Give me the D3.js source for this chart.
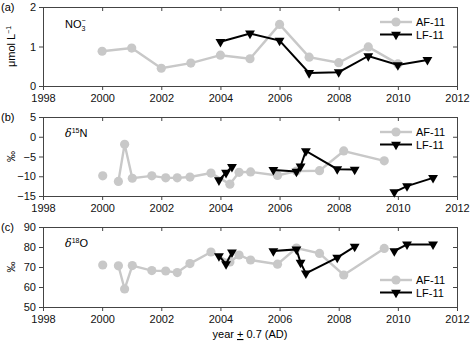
<!DOCTYPE html>
<html><head><meta charset="utf-8">
<script src="https://cdn.jsdelivr.net/npm/d3@7"></script>
<style>body{margin:0;background:#fff}svg{display:block;font-family:"Liberation Sans",Arial,sans-serif}</style>
</head><body><svg id="c" width="472" height="342"></svg>
<script>
// ---- data ----
const xTicks = [1998, 2000, 2002, 2004, 2006, 2008, 2010, 2012];
const nitrateAfYears = [2000, 2001, 2002, 2003, 2004, 2005, 2006, 2007, 2008, 2009, 2010];
const nitrateAf = [0.88, 0.96, 0.45, 0.58, 0.78, 0.69, 1.56, 0.73, 0.59, 0.99, 0.56];
const nitrateLfYears = [2004, 2005, 2006, 2007, 2008, 2009, 2010, 2011];
const nitrateLf = [1.12, 1.33, 1.15, 0.33, 0.35, 0.76, 0.53, 0.66];

const afYears = [2000.02, 2000.55, 2000.76, 2001.02, 2001.68, 2002.15, 2002.54, 2002.97, 2003.68, 2004.32, 2004.63, 2005.02, 2005.93, 2006.57, 2007.35, 2008.17, 2009.54];
const afSegment = [0, 1, 1, 1, 1, 1, 1, 1, 1, 1, 1, 1, 1, 1, 1, 1, 1];
const afD15N = [-9.9, -11.3, -1.9, -10.5, -9.9, -10.4, -10.4, -10.2, -9.2, -12.0, -9.0, -8.9, -9.8, -8.7, -8.6, -3.6, -6.1];
const afD18O = [71, 70.6, 59, 70.7, 68.2, 68, 67.2, 71.7, 77.5, 72.5, 76, 73.5, 71.4, 79.5, 76.8, 66, 79.3];

const lfYears = [2003.95, 2004.19, 2004.39, 2005.79, 2006.57, 2006.71, 2006.89, 2007.95, 2008.54, 2009.88, 2010.31, 2011.19];
const lfSegment = [0, 0, 0, 1, 1, 1, 1, 1, 1, 2, 2, 2];
const lfD15N = [-11.0, -9.1, -7.6, -8.4, -8.8, -7.5, -3.6, -8.2, -8.3, -14.0, -12.5, -10.4];
const lfD18O = [75.5, 71.5, 77.3, 78.0, 78.8, 72.2, 66.8, 74.7, 80.2, 78.0, 81.3, 81.3];

const seriesNames = ["AF-11", "LF-11"];
const panelLetters = ["(a)", "(b)", "(c)"];

// ---- layout ----
const svg = d3.select("#c");
const X0 = 43, X1 = 457;
const x = d3.scaleLinear().domain([1998, 2012]).range([X0, X1]);
const grayC = "#c8c8c8", axisC = "#444";

const panels = [
  {top: 7, bottom: 86, domain: [0, 2], ticks: [0, 1, 2],
   af: nitrateAfYears.map((yr, i) => ({x: yr, y: nitrateAf[i], s: 0})),
   lf: nitrateLfYears.map((yr, i) => ({x: yr, y: nitrateLf[i], s: 0})),
   legendY: 22, ytitle: "umol"},
  {top: 117, bottom: 196, domain: [-15, 5], ticks: [-15, -10, -5, 0, 5],
   af: afYears.map((yr, i) => ({x: yr, y: afD15N[i], s: afSegment[i]})),
   lf: lfYears.map((yr, i) => ({x: yr, y: lfD15N[i], s: lfSegment[i]})),
   legendY: 132, ytitle: "permil"},
  {top: 227, bottom: 307, domain: [50, 90], ticks: [50, 60, 70, 80, 90],
   af: afYears.map((yr, i) => ({x: yr, y: afD18O[i], s: afSegment[i]})),
   lf: lfYears.map((yr, i) => ({x: yr, y: lfD18O[i], s: lfSegment[i]})),
   legendY: 280, ytitle: "permil"}
];

const tri = d3.symbol().type(d3.symbolTriangle).size(42);

panels.forEach((p, pi) => {
  const y = d3.scaleLinear().domain(p.domain).range([p.bottom, p.top]);
  const g = svg.append("g");

  // axes
  const left = g.append("g").attr("transform", `translate(${X0},0)`)
    .call(d3.axisLeft(y).tickValues(p.ticks).tickSize(4).tickSizeOuter(0).tickPadding(3).tickFormat(d3.format("d")));
  const bottom = g.append("g").attr("transform", `translate(0,${p.bottom})`)
    .call(d3.axisBottom(x).tickValues(xTicks).tickSize(4).tickSizeOuter(0).tickPadding(4).tickFormat(d3.format("d")));
  g.append("g").attr("transform", `translate(0,${p.top})`)
    .call(d3.axisBottom(x).tickValues(xTicks).tickSize(4).tickSizeOuter(0).tickFormat(""));
  g.append("g").attr("transform", `translate(${X1},0)`)
    .call(d3.axisLeft(y).tickValues(p.ticks).tickSize(4).tickSizeOuter(0).tickFormat(""));
  g.selectAll(".domain").attr("stroke", axisC);
  g.selectAll(".tick line").attr("stroke", axisC);
  g.selectAll(".tick text").attr("font-size", 11).attr("fill", "#111")
    .attr("font-family", "Liberation Sans, Arial, sans-serif");

  // series
  const line = d3.line().x(d => x(d.x)).y(d => y(d.y));
  const segs = (arr) => d3.groups(arr, d => d.s).map(e => e[1]);
  segs(p.af).forEach(s => g.append("path").attr("d", line(s)).attr("fill", "none")
    .attr("stroke", grayC).attr("stroke-width", 2.4));
  g.selectAll(".afpt").data(p.af).join("circle").attr("cx", d => x(d.x)).attr("cy", d => y(d.y))
    .attr("r", 4.6).attr("fill", grayC);
  segs(p.lf).forEach(s => g.append("path").attr("d", line(s)).attr("fill", "none")
    .attr("stroke", "#000").attr("stroke-width", 2));
  g.selectAll(".lfpt").data(p.lf).join("path")
    .attr("d", tri).attr("transform", d => `translate(${x(d.x)},${y(d.y)}) rotate(180)`)
    .attr("fill", "#000");

  // legend
  const lx0 = 380, lx1 = 412, ly = p.legendY, ly2 = p.legendY + 12.5;
  g.append("line").attr("x1", lx0).attr("x2", lx1).attr("y1", ly).attr("y2", ly).attr("stroke", grayC).attr("stroke-width", 2.4);
  g.append("circle").attr("cx", (lx0 + lx1) / 2).attr("cy", ly).attr("r", 4.6).attr("fill", grayC);
  g.append("line").attr("x1", lx0).attr("x2", lx1).attr("y1", ly2).attr("y2", ly2).attr("stroke", "#000").attr("stroke-width", 2);
  g.append("path").attr("d", tri).attr("transform", `translate(${(lx0 + lx1) / 2},${ly2}) rotate(180)`).attr("fill", "#000");
  g.append("text").attr("x", 416).attr("y", ly + 4).attr("font-size", 11).text(seriesNames[0]);
  g.append("text").attr("x", 416).attr("y", ly2 + 4).attr("font-size", 11).text(seriesNames[1]);

  // panel letter
  g.append("text").attr("x", 1).attr("y", p.top + 4).attr("font-size", 11).text(panelLetters[pi]);

  // y title
  const yc = (p.top + p.bottom) / 2;
  const yt = g.append("text").attr("transform", `translate(15,${yc}) rotate(-90)`)
    .attr("text-anchor", "middle").attr("font-size", 11);
  if (p.ytitle === "umol") {
    yt.append("tspan").text("μmol L");
    yt.append("tspan").attr("dy", -4).attr("font-size", 7).text("−1");
  } else {
    yt.text("‰");
  }
});

// inner labels
const l1 = svg.append("text").attr("x", 65).attr("y", 28).attr("font-size", 11);
l1.append("tspan").text("NO");
l1.append("tspan").attr("font-size", 7).attr("dy", 3).text("3");
l1.append("tspan").attr("font-size", 7).attr("dx", -4).attr("dy", -8).text("−");

const l2 = svg.append("text").attr("x", 65).attr("y", 137).attr("font-size", 11);
l2.append("tspan").attr("font-style", "italic").attr("font-family", "DejaVu Serif, serif").text("δ");
l2.append("tspan").attr("font-size", 7).attr("dy", -4).text("15");
l2.append("tspan").attr("dy", 4).text("N");

const l3 = svg.append("text").attr("x", 65).attr("y", 247).attr("font-size", 11);
l3.append("tspan").attr("font-style", "italic").attr("font-family", "DejaVu Serif, serif").text("δ");
l3.append("tspan").attr("font-size", 7).attr("dy", -4).text("18");
l3.append("tspan").attr("dy", 4).text("O");

// x title
const xt = svg.append("text").attr("x", 250).attr("y", 338).attr("text-anchor", "middle").attr("font-size", 11);
xt.append("tspan").text("year ");
xt.append("tspan").attr("text-decoration", "underline").text("+");
xt.append("tspan").text(" 0.7 (AD)");
</script></body></html>
